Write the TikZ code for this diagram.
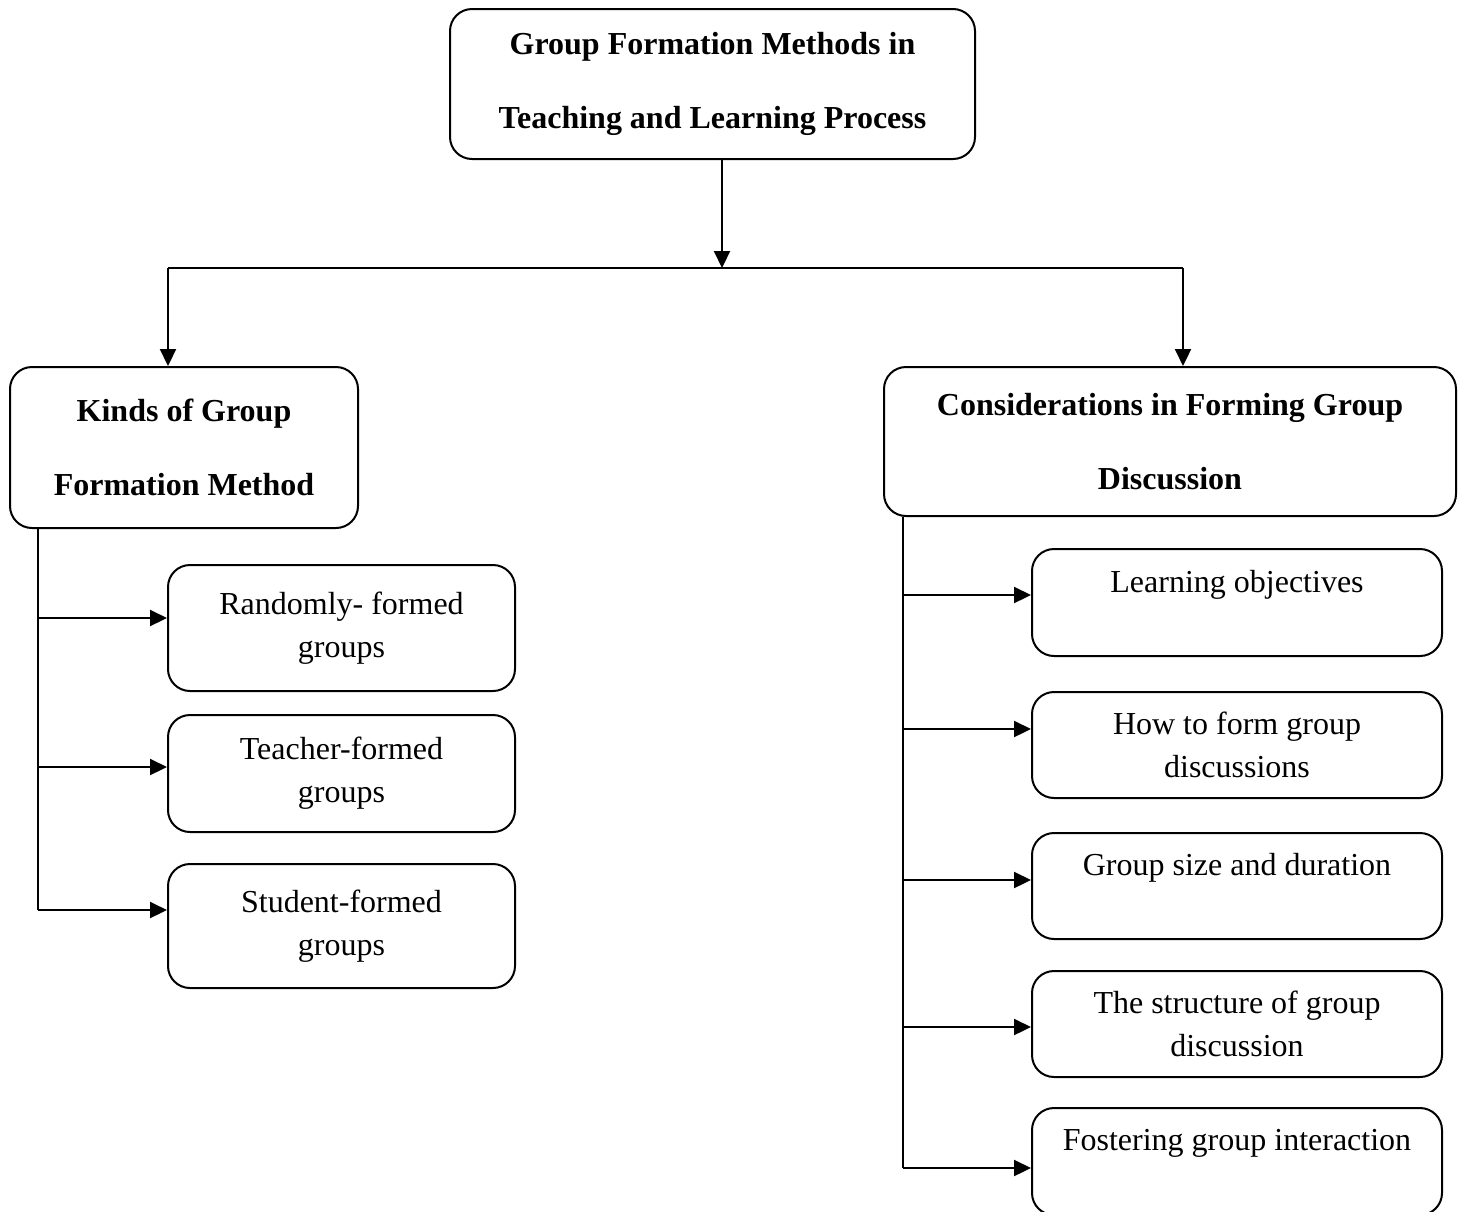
\documentclass[tikz,border=0pt]{standalone}
\usepackage{fontspec}
\setmainfont{Liberation Serif}
\usetikzlibrary{arrows.meta,calc}
\begin{document}
\begin{tikzpicture}[x=0.5pt,y=-0.5pt,
  box/.style={draw, line width=1pt, rounded corners=11pt, align=center, inner sep=0pt},
  headtxt/.style={font=\fontsize{16}{37}\selectfont\bfseries},
  bodytxt/.style={font=\fontsize{16}{21.5}\selectfont},
  arr/.style={line width=1.1pt, -{Triangle[length=8.5pt,width=8pt]}},
  ln/.style={line width=1.1pt}]
\useasboundingbox (0,0) rectangle (1466,1211);
% header boxes
\node[box, headtxt, minimum width=262.5pt, minimum height=75pt] (top) at (712.5,84)
  {Group Formation Methods in\\Teaching and Learning Process};
\node[box, headtxt, minimum width=174pt, minimum height=80.5pt] (kinds) at (184,447.5)
  {Kinds of Group\\Formation Method};
\node[box, headtxt, minimum width=286pt, minimum height=74.5pt] (cons) at (1170,441.5)
  {Considerations in Forming Group\\Discussion};
% left children
\node[box, bodytxt, minimum width=173.5pt, minimum height=63pt] (rf) at (341.5,628)
  {Randomly- formed\\groups};
\node[box, bodytxt, minimum width=173.5pt, minimum height=58.5pt] (tf) at (341.5,773.5)
  {Teacher-formed\\groups};
\node[box, bodytxt, minimum width=173.5pt, minimum height=62pt] (sf) at (341.5,926)
  {Student-formed\\groups};
% right children
\node[box, bodytxt, minimum width=205pt, minimum height=53.5pt] (lo) at (1237,602.5)
  {Learning objectives\\\mbox{}};
\node[box, bodytxt, minimum width=205pt, minimum height=53pt] (hf) at (1237,745)
  {How to form group\\discussions};
\node[box, bodytxt, minimum width=205pt, minimum height=53pt] (gs) at (1237,886)
  {Group size and duration\\\mbox{}};
\node[box, bodytxt, minimum width=205pt, minimum height=53pt] (sg) at (1237,1024)
  {The structure of group\\discussion};
\node[box, bodytxt, minimum width=205pt, minimum height=53.5pt] (fg) at (1237,1161.5)
  {Fostering group interaction\\\mbox{}};
% junctions
\coordinate (j) at (722,268);
\coordinate (jl) at (168,268);
\coordinate (jr) at (1183,268);
\draw[arr] (top.south -| j) -- (j);
\draw[ln] (jl) -- (jr);
\draw[arr] (jl) -- (jl |- kinds.north);
\draw[arr] (jr) -- (jr |- cons.north);
% left bus
\coordinate (a1) at ([yshift=5pt]rf.west);
\coordinate (a2) at ([yshift=3.25pt]tf.west);
\coordinate (a3) at ([yshift=8pt]sf.west);
\coordinate (lbx) at (38,0);
\draw[ln] (lbx |- kinds.south) -- (lbx |- a3);
\draw[arr] (lbx |- a1) -- (a1);
\draw[arr] (lbx |- a2) -- (a2);
\draw[arr] (lbx |- a3) -- (a3);
% right bus
\coordinate (b1) at ([yshift=3.75pt]lo.west);
\coordinate (b2) at ([yshift=8pt]hf.west);
\coordinate (b3) at ([yshift=3pt]gs.west);
\coordinate (b4) at ([yshift=-1.5pt]sg.west);
\coordinate (b5) at ([yshift=-3.25pt]fg.west);
\coordinate (rbx) at (903,0);
\draw[ln] (rbx |- cons.south) -- (rbx |- b5);
\draw[arr] (rbx |- b1) -- (b1);
\draw[arr] (rbx |- b2) -- (b2);
\draw[arr] (rbx |- b3) -- (b3);
\draw[arr] (rbx |- b4) -- (b4);
\draw[arr] (rbx |- b5) -- (b5);
\end{tikzpicture}
\end{document}
